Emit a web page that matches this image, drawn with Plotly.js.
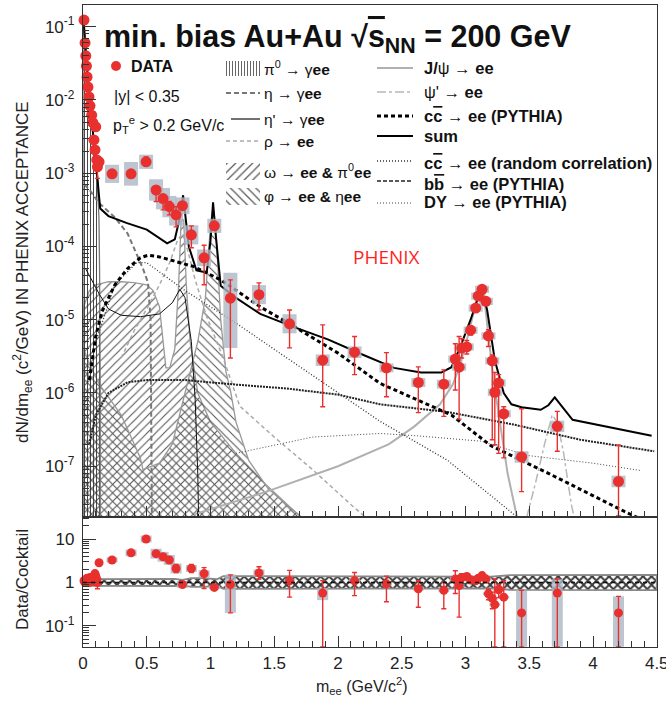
<!DOCTYPE html>
<html><head><meta charset="utf-8">
<script src="https://cdn.plot.ly/plotly-3.0.1.min.js"></script>
<style>html,body{margin:0;padding:0;background:#fff}#chart{width:666px;height:701px}</style>
</head><body><div id="chart"></div>
<script>
// ---------------- DATA ----------------
const mass = [0.008,0.016,0.022,0.027,0.032,0.039,0.047,0.055,0.068,0.077,0.086,0.094,0.100,0.108,0.113,0.126,
  0.228,0.377,0.495,0.573,0.628,0.677,0.730,0.780,0.850,0.950,1.030,
  1.156,1.380,1.620,1.880,2.130,2.380,2.630,2.830,
  2.920,2.950,2.970,3.010,3.040,3.080,3.100,3.130,3.160,3.180,3.210,3.230,3.260,3.300,
  3.440,3.720,4.200];
const yieldVal = [0.123,0.060,0.040,0.029,0.0206,0.015,0.011,0.0083,0.0062,0.0049,0.00285,0.00208,0.0043,0.00152,0.00122,0.00143,
  0.00098,0.00098,0.00143,0.00059,0.00045,0.00035,0.00027,0.00036,0.000144,0.00007,0.000191,
  1.97e-5,2.2e-5,8.8e-6,2.8e-6,3.6e-6,2.2e-6,1.39e-6,1.32e-6,
  2.9e-6,2.25e-6,4.1e-6,4.25e-6,7.2e-6,1.44e-5,2.1e-5,2.6e-5,1.78e-5,6.0e-6,2.74e-6,1.02e-6,1.37e-6,5.2e-7,
  1.34e-7,3.5e-7,6.2e-8];
const yieldHi = [0.129,0.063,0.042,0.030,0.0215,0.0157,0.0115,0.0087,0.0065,0.0052,0.0030,0.0022,0.0046,0.0016,0.0013,0.00150,
  0.00098,0.00098,0.00167,0.00065,0.000506,0.00041,0.00035,0.00040,0.000191,0.000104,0.000217,
  3.5e-5,3.18e-5,1.36e-5,8.5e-6,5.9e-6,3.55e-6,2.27e-6,2.07e-6,
  4.7e-6,5.9e-6,5.5e-6,5.2e-6,8.3e-6,1.6e-5,2.3e-5,2.8e-5,1.95e-5,7.3e-6,3.3e-6,1.9e-6,1.78e-6,6.5e-7,
  6.1e-7,5.6e-7,1.95e-7];
const yieldLo = [0.117,0.057,0.038,0.028,0.0197,0.0143,0.0105,0.0079,0.0059,0.0046,0.0027,0.0019,0.0040,0.0014,0.00085,0.00136,
  0.00098,0.00098,0.0013,0.00041,0.000316,0.00027,0.000185,0.00032,0.000096,0.00003,0.000168,
  3.0e-6,1.36e-5,4.13e-6,6.5e-7,1.78e-6,8.9e-7,5.4e-7,4.8e-7,
  1.1e-6,4.4e-7,3.0e-6,3.4e-6,6.2e-6,1.3e-5,1.9e-5,2.4e-5,1.6e-5,4.3e-6,2.3e-7,1.96e-7,1.5e-7,1.3e-7,
  4.5e-8,1.6e-7,2.1e-8];
const sysHiF = [1.08,1.08,1.08,1.08,1.08,1.08,1.08,1.08,1.08,1.08,1.08,1.08,1.08,1.08,1.08,1.08,
  1.33,1.45,1.25,1.4,1.4,1.4,1.4,1.3,1.35,1.3,1.25,
  2.23,1.35,1.35,1.2,1.2,1.15,1.15,1.15,
  1.12,1.12,1.12,1.12,1.12,1.12,1.12,1.12,1.12,1.12,1.12,1.12,1.12,1.12,
  1.2,1.2,1.2];
const sysLoF = [1.08,1.08,1.08,1.08,1.08,1.08,1.08,1.08,1.08,1.08,1.08,1.08,1.08,1.08,1.08,1.08,
  1.33,1.45,1.25,1.4,1.4,1.4,1.4,1.3,1.35,1.3,1.25,
  4.8,1.35,1.35,1.2,1.2,1.15,1.15,1.15,
  1.12,1.12,1.12,1.12,1.12,1.12,1.12,1.12,1.12,1.12,1.12,1.12,1.12,1.12,
  1.2,1.2,1.2];

const ratioVal = [1.1,1.0,1.15,1.2,1.25,1.1,1.0,1.3,1.2,1.1,1.05,1.6,1.4,1.2,1.0,2.85,
  3.3,4.8,10,4.6,3.9,3.3,2.1,0.9,2.1,1.6,0.77,
  0.9,1.66,1.1,0.57,1.1,0.93,0.72,0.66,
  1.2,0.85,1.3,1.37,1.15,1.1,1.25,1.44,1.2,0.55,0.43,0.31,0.68,0.46,
  0.2,0.57,0.2];
const ratioHi = [1.19,1.08,1.24,1.3,1.35,1.19,1.08,1.4,1.3,1.19,1.13,1.75,1.52,1.3,1.1,3.0,
  3.3,4.8,10.8,5.2,4.4,3.9,2.6,1.0,2.6,2.2,0.8,
  1.5,2.3,1.9,1.1,1.7,1.4,1.1,1.0,
  1.87,1.44,1.6,1.6,1.35,1.2,1.35,1.55,1.35,0.7,0.6,1.2,0.9,1.1,
  0.66,1.2,0.48];
const ratioLo = [1.02,0.93,1.07,1.1,1.16,1.02,0.9,1.2,1.1,1.02,0.97,1.45,1.28,1.1,0.72,2.7,
  3.3,4.8,9.2,4.1,3.4,2.8,1.7,0.8,1.7,0.73,0.74,
  0.2,1.2,0.46,0.033,0.5,0.36,0.27,0.25,
  0.56,0.16,1.05,1.15,0.95,1.0,1.15,1.33,1.05,0.4,0.25,0.033,0.45,0.033,
  0.033,0.033,0.033];
const rSysHiF = [1.05,1.05,1.05,1.05,1.05,1.05,1.05,1.05,1.05,1.05,1.05,1.05,1.05,1.05,1.05,1.05,
  1.15,1.2,1.2,1.3,1.3,1.3,1.3,1.2,1.2,1.2,1.1,
  1.7,1.2,1.1,1.3,1.1,1.1,1.1,1.1,
  1.08,1.08,1.08,1.08,1.08,1.08,1.08,1.08,1.08,1.08,1.08,1.08,1.08,1.08,
  3.3,2.1,2.4];
const rSysLoF = [1.05,1.05,1.05,1.05,1.05,1.05,1.05,1.05,1.05,1.05,1.05,1.05,1.05,1.05,1.05,1.05,
  1.15,1.2,1.2,1.3,1.3,1.3,1.3,1.2,1.2,1.2,1.1,
  4.5,1.2,1.1,1.45,1.1,1.1,1.1,1.1,
  1.08,1.08,1.08,1.08,1.08,1.08,1.08,1.08,1.08,1.08,1.08,1.08,1.08,1.08,
  6,17,6];

// cocktail components
const pi0X = [0,0.005,0.02,0.04,0.06,0.08,0.10,0.115,0.125,0.13,0.135];
const pi0Y = [0.13,0.115,0.045,0.017,0.007,0.003,0.0013,6e-4,2.5e-4,5e-5,1e-6];
const etaX = [0.01,0.05,0.12,0.25,0.35,0.42,0.47,0.51,0.53,0.545];
const etaY = [7e-4,6e-4,4e-4,2.5e-4,1.5e-4,8e-5,5e-5,3.2e-5,1e-5,1e-9];
const etapX = [0.02,0.1,0.13,0.2,0.3,0.45,0.6,0.7,0.76,0.8,0.85,0.88,0.9,0.92];
const etapY = [5e-5,2.8e-5,2.2e-5,1.4e-5,1.15e-5,1.1e-5,1.2e-5,1.7e-5,2.6e-5,2e-5,5e-6,8e-7,8e-8,1e-9];
const rhoX = [0.3,0.4,0.5,0.6,0.68,0.74,0.78,0.82,0.88,0.97,1.1,1.23,1.5,1.8,2.12,2.25];
const rhoY = [3e-6,7e-6,1.4e-5,3e-5,6e-5,1.2e-4,1.5e-4,9e-5,3.5e-5,1.1e-5,3e-6,6.6e-7,2.5e-7,9e-8,2.8e-8,1.8e-8];
const omegaX = [0.005,0.05,0.1,0.2,0.3,0.4,0.5,0.55,0.6,0.63,0.65,0.68,0.72,0.75,0.77,0.79,0.81,0.84,0.9,1.0,1.2,1.44,1.65,1.8];
const omegaY = [1.5e-5,2.5e-5,3e-5,3.3e-5,3.3e-5,3.2e-5,3e-5,2.5e-5,1.5e-5,5e-6,2.2e-6,2.2e-6,4e-6,3e-5,2.3e-4,2.3e-4,3e-5,5e-6,1e-6,4e-7,1.5e-7,5.5e-8,2.5e-8,1.5e-8];
const phiX = [0.005,0.05,0.13,0.3,0.45,0.47,0.6,0.7,0.8,0.9,0.96,1.0,1.02,1.04,1.08,1.12,1.16,1.2,1.3,1.45,1.65,1.8];
const phiY = [4e-6,2.5e-6,1.3e-6,5e-7,1.3e-7,9e-8,1.1e-7,2e-7,1e-6,5e-6,2e-5,2e-4,3.5e-4,2e-4,1e-5,2e-6,1e-6,4e-7,1.2e-7,5e-8,2.5e-8,1.5e-8];
const jpsiX = [0.87,1.2,1.44,2.0,2.4,2.6,2.8,2.9,2.95,3.0,3.05,3.1,3.12,3.15,3.18,3.22,3.27,3.33,3.42];
const jpsiY = [2.2e-8,3.3e-8,4.5e-8,1e-7,2e-7,3.5e-7,7e-7,1.3e-6,2.2e-6,4.5e-6,1e-5,2.2e-5,2.4e-5,1.8e-5,6e-6,1.5e-6,4e-7,8e-8,1.5e-8];
const psi2X = [3.48,3.55,3.62,3.68,3.72,3.77,3.83,3.87];
const psi2Y = [2e-8,6e-8,2e-7,5e-7,4e-7,1.5e-7,3e-8,1.5e-8];
const ccX = [0.05,0.1,0.15,0.25,0.35,0.45,0.51,0.6,0.87,1.08,1.39,1.65,2.0,2.33,2.89,3.2,3.65,4.25,4.5];
const ccY = [1.5e-6,6e-6,1.3e-5,3e-5,5e-5,7e-5,7.6e-5,7.2e-5,5.3e-5,3.5e-5,1.5e-5,8.2e-6,3.5e-6,1.35e-6,5e-7,1.9e-7,8e-8,2.4e-8,1.5e-8];
const sumX = [0.005,0.02,0.04,0.06,0.08,0.10,0.115,0.125,0.135,0.2,0.34,0.5,0.6,0.66,0.72,0.76,0.785,0.80,0.83,0.89,0.97,1.0,1.02,1.04,1.08,1.18,1.39,1.65,1.92,2.2,2.44,2.65,2.81,2.89,2.96,3.04,3.11,3.13,3.17,3.23,3.30,3.36,3.44,3.59,3.65,3.70,3.76,3.84,4.46];
const sumY = [0.12,0.05,0.018,0.0075,0.0035,0.0015,8e-4,5e-4,3.3e-4,2.6e-4,2.1e-4,1.7e-4,1.3e-4,1.1e-4,1.25e-4,2.5e-4,5e-4,3e-4,1e-4,4.7e-5,4.4e-5,1.2e-4,4e-4,1.5e-4,2.9e-5,2.1e-5,1.2e-5,8e-6,5.4e-6,3.3e-6,2.2e-6,1.9e-6,1.9e-6,2.25e-6,4.3e-6,1e-5,2.3e-5,2.6e-5,1.35e-5,2.8e-6,1e-6,7e-7,6.4e-7,5.9e-7,6.8e-7,8.7e-7,6.4e-7,4.3e-7,2.6e-7];
const randX = [0.1,0.25,0.42,0.5,0.8,1.2,1.6,2.0,2.33,2.86,3.38,3.5];
const randY = [5e-6,3e-5,6e-5,6e-5,2.5e-5,9e-6,3e-6,1e-6,4.1e-7,1.2e-7,2.2e-8,1.6e-8];
const bbX = [0.05,0.1,0.2,0.35,0.5,0.8,1.2,1.6,2.0,2.33,2.86,3.38,3.9,4.48];
const bbY = [2e-7,5e-7,1e-6,1.4e-6,1.5e-6,1.5e-6,1.3e-6,1.15e-6,9.5e-7,7e-7,5.5e-7,3.7e-7,2.3e-7,1.6e-7];
const dyX = [1.2,1.8,2.33,2.62,3.12,3.49,4.0,4.38];
const dyY = [1.5e-7,2.5e-7,2.8e-7,2.6e-7,2.2e-7,1.4e-7,1.1e-7,8.7e-8];

// cocktail systematic band in ratio panel
const bandX  = [0,0.5,0.72,0.78,0.85,0.95,1.05,1.1,1.6,1.7,3.2,3.35,3.6,3.8,4.5];
const bandLo = [0.84,0.84,0.83,0.87,0.79,0.79,0.84,0.71,0.71,0.73,0.73,0.68,0.68,0.67,0.67];
const bandHi = [1.19,1.19,1.21,1.15,1.26,1.26,1.19,1.4,1.4,1.36,1.36,1.47,1.47,1.49,1.49];

const yTickVals = [1e-7,1e-6,1e-5,1e-4,1e-3,1e-2,1e-1];
const yTickText = ['10<sup>-7</sup>','10<sup>-6</sup>','10<sup>-5</sup>','10<sup>-4</sup>','10<sup>-3</sup>','10<sup>-2</sup>','10<sup>-1</sup>'];
const rTickVals = [0.1,1,10];
const rTickText = ['10<sup>-1</sup>','1','10'];
const xTickVals = [0,0.5,1,1.5,2,2.5,3,3.5,4,4.5];
const xTickText = ['0','0.5','1','1.5','2','2.5','3','3.5','4','4.5'];

// ---------------- drawing ----------------
const FONT = 'Liberation Sans, Arial, Helvetica, sans-serif';
const RED = '#e8312f';
const BASE = 1e-9;
const LOW_MASS_CUT = 0.15;

function minorLog(lo, hi){ const v=[]; for(let d=lo; d<=hi; d++){ for(let m=2;m<=9;m++) v.push(m*Math.pow(10,d)); } return v; }
function area(xs, ys, shape, fg, size, sol, lc){
  return {type:'scatter', mode:'lines', x: xs.concat([xs[xs.length-1], xs[0], xs[0]]),
    y: ys.concat([BASE, BASE, ys[0]]), fill:'toself', fillcolor:'rgba(0,0,0,0)',
    fillpattern:{shape:shape, fgcolor:fg, bgcolor:'rgba(0,0,0,0)', size:size, solidity:sol},
    line:{color:lc, width:1.3}, xaxis:'x', yaxis:'y', hoverinfo:'skip', showlegend:false};
}
function line(xs, ys, color, width, dash){
  return {type:'scatter', mode:'lines', x:xs, y:ys, line:{color:color, width:width, dash:dash||'solid'},
    xaxis:'x', yaxis:'y', hoverinfo:'skip', showlegend:false};
}
function sysTrace(idx, xs, ys, hiF, loF, thick, xa, ya){
  const X=[],Y=[],A=[],B=[];
  idx.forEach(i=>{X.push(xs[i]);Y.push(ys[i]);A.push(ys[i]*hiF[i]-ys[i]);B.push(ys[i]-ys[i]/loF[i]);});
  return {type:'scatter', mode:'markers', x:X, y:Y, marker:{size:1, color:'rgba(0,0,0,0)'},
    error_y:{type:'data', symmetric:false, array:A, arrayminus:B, color:'rgba(172,182,196,0.8)', thickness:thick, width:0},
    xaxis:xa, yaxis:ya, hoverinfo:'skip', showlegend:false, cliponaxis:false};
}
function dataTrace(xs, ys, hi, lo, size, xa, ya){
  return {type:'scatter', mode:'markers', x:xs, y:ys, marker:{size:size, color:RED},
    error_y:{type:'data', symmetric:false, array:hi.map((h,i)=>Math.max(h-ys[i],0)), arrayminus:lo.map((l,i)=>Math.max(ys[i]-l,0)),
      color:RED, thickness:1.4, width:2.5},
    xaxis:xa, yaxis:ya, hoverinfo:'skip', showlegend:false, cliponaxis:false};
}
const allIdx = mass.map((_,i)=>i);
const lowIdx = allIdx.filter(i=>mass[i]<LOW_MASS_CUT);
const highIdx = allIdx.filter(i=>mass[i]>=LOW_MASS_CUT);

const traces = [
  area(omegaX, omegaY, '/', '#555', 6, 0.18, '#999'),
  area(phiX, phiY, '\\', '#555', 6, 0.18, '#999'),
  area(pi0X, pi0Y, '|', '#333', 3, 0.3, '#777'),
  line(etaX, etaY, '#777', 2, '5px,3px'),
  line(etapX, etapY, '#111', 1, 'solid'),
  line(rhoX, rhoY, '#aaa', 1.5, '4px,3px'),
  line(jpsiX, jpsiY, '#b0b0b0', 2, 'solid'),
  line(psi2X, psi2Y, '#b8b8b8', 1.5, 'dashdot'),
  line(dyX, dyY, '#444', 1, '1px,2px'),
  line(bbX, bbY, '#222', 2, '2px,1px'),
  line(randX, randY, '#333', 1.3, '1px,2px'),
  line(ccX, ccY, '#000', 3, '4px,3px'),
  line(sumX, sumY, '#000', 2, 'solid'),
  sysTrace(lowIdx, mass, yieldVal, sysHiF, sysLoF, 5, 'x', 'y'),
  sysTrace(highIdx, mass, yieldVal, sysHiF, sysLoF, 14, 'x', 'y'),
  dataTrace(mass, yieldVal, yieldHi, yieldLo, 11, 'x', 'y'),
  // ratio panel
  {type:'scatter', mode:'lines', x: bandX.concat(bandX.slice().reverse()).concat([bandX[0]]),
    y: bandHi.concat(bandLo.slice().reverse()).concat([bandHi[0]]), fill:'toself', fillcolor:'rgba(0,0,0,0)',
    fillpattern:{shape:'x', fgcolor:'#3a3a3a', bgcolor:'rgba(255,255,255,0)', size:6, solidity:0.55},
    line:{color:'#888', width:1.8}, xaxis:'x2', yaxis:'y2', hoverinfo:'skip', showlegend:false},
  sysTrace(lowIdx, mass, ratioVal, rSysHiF, rSysLoF, 4, 'x2', 'y2'),
  sysTrace(highIdx, mass, ratioVal, rSysHiF, rSysLoF, 11, 'x2', 'y2'),
  dataTrace(mass, ratioVal, ratioHi, ratioLo, 9, 'x2', 'y2')
];

// ---- legend samples (overlay in figure pixels) ----
function ov(obj){ return Object.assign({xaxis:'x3', yaxis:'y3', hoverinfo:'skip', showlegend:false, cliponaxis:false}, obj); }
function box(x0,x1,y0,y1,shape,size,sol){
  return ov({type:'scatter', mode:'lines', x:[x0,x1,x1,x0,x0], y:[y0,y0,y1,y1,y0], fill:'toself', fillcolor:'rgba(0,0,0,0)',
    fillpattern:{shape:shape, fgcolor:'#555', bgcolor:'rgba(0,0,0,0)', size:size, solidity:sol}, line:{width:0, color:'rgba(0,0,0,0)'}});
}
function seg(x0,x1,y,color,width,dash){ return ov({type:'scatter', mode:'lines', x:[x0,x1], y:[y,y], line:{color:color,width:width,dash:dash||'solid'}}); }
traces.push(
  ov({type:'scatter', mode:'markers', x:[116], y:[66], marker:{size:10, color:RED}}),
  box(226,260,61,76,'|',3,0.3),
  seg(226,260,93,'#777',2,'5px,3px'),
  seg(231,260,119,'#111',1.2),
  seg(226,260,141,'#aaa',1.5,'4px,3px'),
  box(226,260,163,180,'/',6,0.2),
  box(226,260,188,205,'\\',6,0.2),
  seg(377,413,68,'#b0b0b0',2),
  seg(377,413,92,'#b8b8b8',1.5,'dashdot'),
  seg(377,413,116,'#000',3,'4px,3px'),
  seg(377,413,136,'#000',2),
  seg(377,413,161,'#333',1.3,'1px,2px'),
  seg(377,413,181,'#222',1.3,'4px,2px'),
  seg(377,413,203,'#444',1,'1px,2px')
);

function txt(x,y,text,size,opts){
  return Object.assign({xref:'x3', yref:'y3', x:x, y:y, text:text, showarrow:false, xanchor:'left', yanchor:'middle',
    font:{family:FONT, size:size, color:'#111'}}, opts||{});
}
const OL = (s)=>'<span style="text-decoration:overline">'+s+'</span>';
const annotations = [
  txt(102,38,'<b>min. bias Au+Au √'+OL('s')+'<sub>NN</sub> = 200 GeV</b>',30.5),
  txt(129,66,'<b>DATA</b>',16),
  txt(112,96,'|y| &lt; 0.35',16),
  txt(111,125,'p<sub>T</sub><sup>e</sup> &gt; 0.2 GeV/c',16),
  txt(262,68,'π<sup>0</sup> → γ<b>ee</b>',15.5),
  txt(262,93,'η → γ<b>ee</b>',15.5),
  txt(262,119,"η' → γ<b>ee</b>",15.5),
  txt(262,141,'ρ → <b>ee</b>',15.5),
  txt(262,171,'ω → <b>ee &amp; </b>π<sup>0</sup><b>ee</b>',15.5),
  txt(262,196,'φ → <b>ee &amp; </b>η<b>ee</b>',15.5),
  txt(422,68,'<b>J/</b>ψ → <b>ee</b>',16.5),
  txt(422,92,"ψ' → <b>ee</b>",16.5),
  txt(422,116,'<b>c'+OL('c')+' → ee (PYTHIA)</b>',16.5),
  txt(422,136,'<b>sum</b>',16.5),
  txt(422,163,'<b>c'+OL('c')+' → ee (random correlation)</b>',16.5),
  txt(422,184,'<b>b'+OL('b')+' → ee (PYTHIA)</b>',16.5),
  txt(422,202,'<b>DY → ee (PYTHIA)</b>',16.5),
  txt(386,257,'PHENIX',19,{xanchor:'center', font:{family:'Open Sans, '+FONT, size:19, color:'#ff1f1f'}}),
  txt(22,272,'dN/dm<sub>ee</sub> (c<sup>2</sup>/GeV) IN PHENIX ACCEPTANCE',17,{xanchor:'center', textangle:-90, font:{family:FONT,size:17,color:'#222'}}),
  txt(22,580,'Data/Cocktail',17,{xanchor:'center', textangle:-90, font:{family:FONT,size:17,color:'#222'}}),
  txt(362,686,'m<sub>ee</sub> (GeV/c<sup>2</sup>)',16,{xanchor:'center', font:{family:FONT,size:16,color:'#222'}})
];

const W=666, H=701;
const xDom = [83/W, 657/W];
const axBase = {showline:true, mirror:true, linecolor:'#333', linewidth:1.2, showgrid:false, zeroline:false,
  ticks:'inside', tickcolor:'#333', tickfont:{family:FONT, size:17, color:'#222'}, fixedrange:true, ticklabeloverflow:'allow'};
const layout = {
  width:W, height:H, margin:{l:0,r:0,t:0,b:0}, paper_bgcolor:'#fff', plot_bgcolor:'rgba(0,0,0,0)',
  font:{family:FONT}, showlegend:false,
  xaxis: Object.assign({}, axBase, {domain:xDom, range:[0,4.502], anchor:'y', tickmode:'array', tickvals:xTickVals, showticklabels:false,
    ticklen:11, minor:{ticks:'inside', ticklen:6, dtick:0.1, tick0:0, tickcolor:'#333'}}),
  yaxis: Object.assign({}, axBase, {domain:[(H-517)/H,(H-5)/H], type:'log', range:[-7.693,-0.704], anchor:'x',
    tickmode:'array', tickvals:yTickVals, ticktext:yTickText, ticklen:13, ticklabelstandoff:4,
    minor:{ticks:'inside', ticklen:6, tickmode:'array', tickvals:minorLog(-8,-1), tickcolor:'#333'}}),
  xaxis2: Object.assign({}, axBase, {domain:xDom, range:[0,4.502], anchor:'y2', tickmode:'array', tickvals:xTickVals, ticktext:xTickText,
    ticklen:11, minor:{ticks:'inside', ticklen:6, dtick:0.1, tick0:0, tickcolor:'#333'}}),
  yaxis2: Object.assign({}, axBase, {domain:[(H-647)/H,(H-517)/H], type:'log', range:[-1.483,1.506], anchor:'x2',
    tickmode:'array', tickvals:rTickVals, ticktext:rTickText, ticklen:13, ticklabelstandoff:4,
    minor:{ticks:'inside', ticklen:6, tickmode:'array', tickvals:minorLog(-2,1), tickcolor:'#333'}}),
  xaxis3: {domain:[0,1], range:[0,W], visible:false, anchor:'y3', fixedrange:true},
  yaxis3: {domain:[0,1], range:[H,0], visible:false, anchor:'x3', fixedrange:true},
  shapes: [{type:'line', xref:'x2', yref:'y2', x0:0, x1:4.5, y0:1, y1:1, line:{color:'#111', width:1.5, dash:'4px,4px'}}],
  annotations: annotations
};
Plotly.newPlot('chart', traces, layout, {staticPlot:true, displayModeBar:false});
</script></body></html>
